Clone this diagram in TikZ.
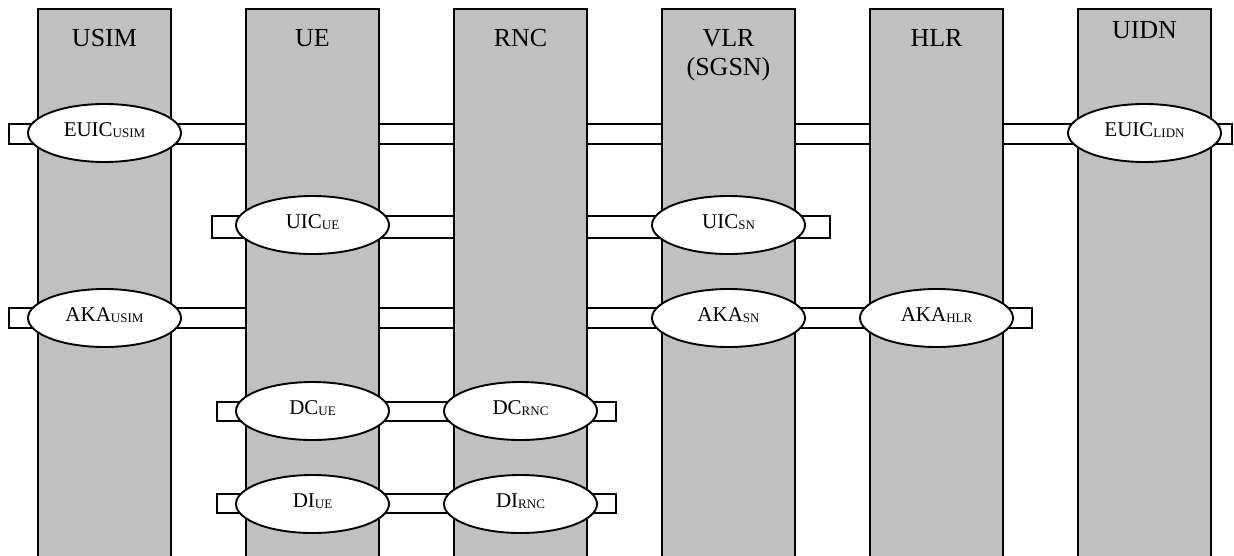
\documentclass[tikz,border=0pt]{standalone}
\usepackage{fontspec}
\setmainfont{Liberation Serif}
\usetikzlibrary{shapes.geometric}
\definecolor{colgray}{HTML}{C0C0C0}
\newcommand\lowsub[1]{\raisebox{-1pt}{\fontsize{13}{13}\selectfont #1}}
\tikzset{
  colbox/.style={rectangle, fill=colgray, draw=none, minimum width=133pt, minimum height=560pt, anchor=north, inner sep=0pt},
  colline/.style={draw=black, line width=1.9pt},
  band/.style={rectangle, fill=white, draw=black, line width=1.9pt, inner sep=0pt},
  ent/.style={ellipse, draw=black, fill=white, line width=1.9pt, minimum width=153pt, minimum height=58pt, inner sep=0pt, font=\fontsize{21}{21}\selectfont, text height=14pt, text depth=6.6pt},
  lbl/.style={font=\fontsize{26}{30}\selectfont, anchor=base, inner sep=0pt}
}
\begin{document}
\begin{tikzpicture}[x=1pt, y=-1pt]
\useasboundingbox (0,0) rectangle (1234,555);
\clip (0,0) rectangle (1234,555);
% bands (behind columns)
\node[band, minimum width=1223pt, minimum height=20pt] (bEUIC) at (620.5,134) {};
\node[band, minimum width=618pt, minimum height=22pt] (bUIC) at (521,227) {};
\node[band, minimum width=1023pt, minimum height=20pt] (bAKA) at (520.5,318) {};
\node[band, minimum width=399pt, minimum height=19pt] (bDC) at (416.5,411.5) {};
\node[band, minimum width=399pt, minimum height=19pt] (bDI) at (416.5,503.5) {};
% columns
\node[colbox] (usim) at (104.5,9) {};
\node[colbox] (ue) at (312.5,9) {};
\node[colbox] (rnc) at (520.5,9) {};
\node[colbox] (vlr) at (728.5,9) {};
\node[colbox] (hlr) at (936.5,9) {};
\node[colbox] (uidn) at (1144.5,9) {};
\foreach \c in {usim,ue,rnc,vlr,hlr,uidn}{
  \draw[colline] (\c.south west) |- (\c.north) -| (\c.south east);
}
% column titles
\node[lbl] (tusim) at (104.5,46) {USIM};
\node[lbl] (tue) at (312.5,46) {UE};
\node[lbl] (trnc) at (520.5,46) {RNC};
\node[lbl] (tvlr) at (728.5,46) {VLR};
\node[lbl] (tsgsn) at (728.5,75) {(SGSN)};
\node[lbl] (thlr) at (936.5,46) {HLR};
\node[lbl] (tuidn) at (1144.5,38) {UIDN};
% entities
\node[ent] (euicusim) at (104.5,133) {EUIC\lowsub{USIM}};
\node[ent] (euiclidn) at (1144.5,133) {EUIC\lowsub{LIDN}};
\node[ent] (uicue) at (312.5,225) {UIC\lowsub{UE}};
\node[ent] (uicsn) at (728.5,225) {UIC\lowsub{SN}};
\node[ent] (akausim) at (104.5,318) {AKA\lowsub{USIM}};
\node[ent] (akasn) at (728.5,318) {AKA\lowsub{SN}};
\node[ent] (akahlr) at (936.5,318) {AKA\lowsub{HLR}};
\node[ent] (dcue) at (312.5,411) {DC\lowsub{UE}};
\node[ent] (dcrnc) at (520.5,411) {DC\lowsub{RNC}};
\node[ent] (diue) at (312.5,504) {DI\lowsub{UE}};
\node[ent] (dirnc) at (520.5,504) {DI\lowsub{RNC}};
\end{tikzpicture}
\end{document}
